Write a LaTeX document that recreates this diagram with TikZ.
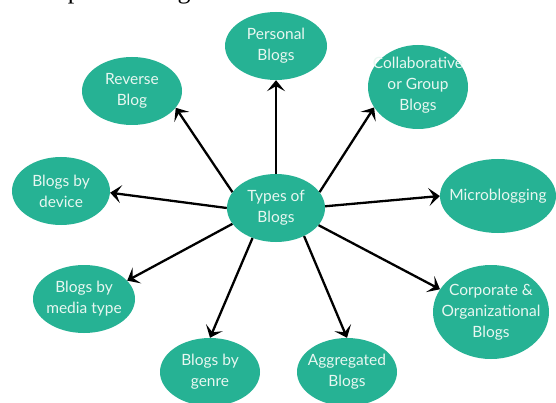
\documentclass[tikz,border=0pt]{standalone}
\usepackage{fontspec}
\setmainfont{Lato}
\newfontfamily\capfont{Liberation Serif}
\usetikzlibrary{shapes.geometric,arrows.meta}
\definecolor{teal1}{RGB}{38,178,148}
\definecolor{txt1}{RGB}{232,247,241}
\begin{document}
\begin{tikzpicture}[x=1pt,y=-1pt,
 blob/.style={ellipse,fill=teal1,draw=none,inner sep=0pt},
 lbl/.style={text=txt1,font=\fontsize{15.5}{21}\selectfont,align=center,inner sep=0pt},
 conn/.style={draw=black,line width=2.3pt,-{Stealth[length=11pt,width=18pt,inset=5pt]}}]
\useasboundingbox (0,0) rectangle (556,403);
\fill[white] (0,0) rectangle (556,403);
\begin{scope}
\clip (0,0) rectangle (556,403);
\node[anchor=base west,inner sep=0pt,font=\capfont\fontsize{26}{30}\selectfont] (cap) at (7,-1) {Examples of blogs};
% ellipses
\node[blob,minimum width=98pt,minimum height=68pt] (C) at (276,208) {};
\node[blob,minimum width=102pt,minimum height=68pt] (P) at (276,46) {};
\node[blob,minimum width=100pt,minimum height=84pt] (G) at (418,87) {};
\node[blob,minimum width=100pt,minimum height=68pt] (R) at (132,91) {};
\node[blob,minimum width=98pt,minimum height=68pt] (D) at (61,191) {};
\node[blob,minimum width=102pt,minimum height=68pt] (M) at (84,299) {};
\node[blob,minimum width=100pt,minimum height=68pt] (N) at (210,372) {};
\node[blob,minimum width=100pt,minimum height=68pt] (A) at (347,372) {};
\node[blob,minimum width=116pt,minimum height=94pt] (K) at (491,312) {};
\node[blob,minimum width=116pt,minimum height=74pt] (B) at (498,196) {};
% labels
\node[lbl] (Ct) at (C) {Types of\\Blogs};
\node[lbl] (Pt) at (P) {Personal\\Blogs};
\node[lbl] (Gt) at ([yshift=2pt]G.center) {Collaborative\\or Group\\Blogs};
\node[lbl] (Rt) at (R) {Reverse\\Blog};
\node[lbl] (Dt) at (D) {Blogs by\\device};
\node[lbl] (Mt) at (M) {Blogs by\\media type};
\node[lbl] (Nt) at (N) {Blogs by\\genre};
\node[lbl] (At) at (A) {Aggregated\\Blogs};
\node[lbl] (Kt) at (K) {Corporate \&\\Organizational\\Blogs};
\node[lbl] (Bt) at (B) {Microblogging};
% connectors
\draw[conn] (C.90) -- (P.-90);
\draw[conn] (C.20) -- (G.205);
\draw[conn] (C.160) -- (R.-21);
\draw[conn] (C.180) -- (D.-2);
\draw[conn] (C.200) -- (M.23);
\draw[conn] (C.232) -- (N.90);
\draw[conn] (C.-45) -- (A.90);
\draw[conn] (C.-22) -- (K.156);
\draw[conn] (C.2) -- (B.180);
\end{scope}
\end{tikzpicture}
\end{document}
